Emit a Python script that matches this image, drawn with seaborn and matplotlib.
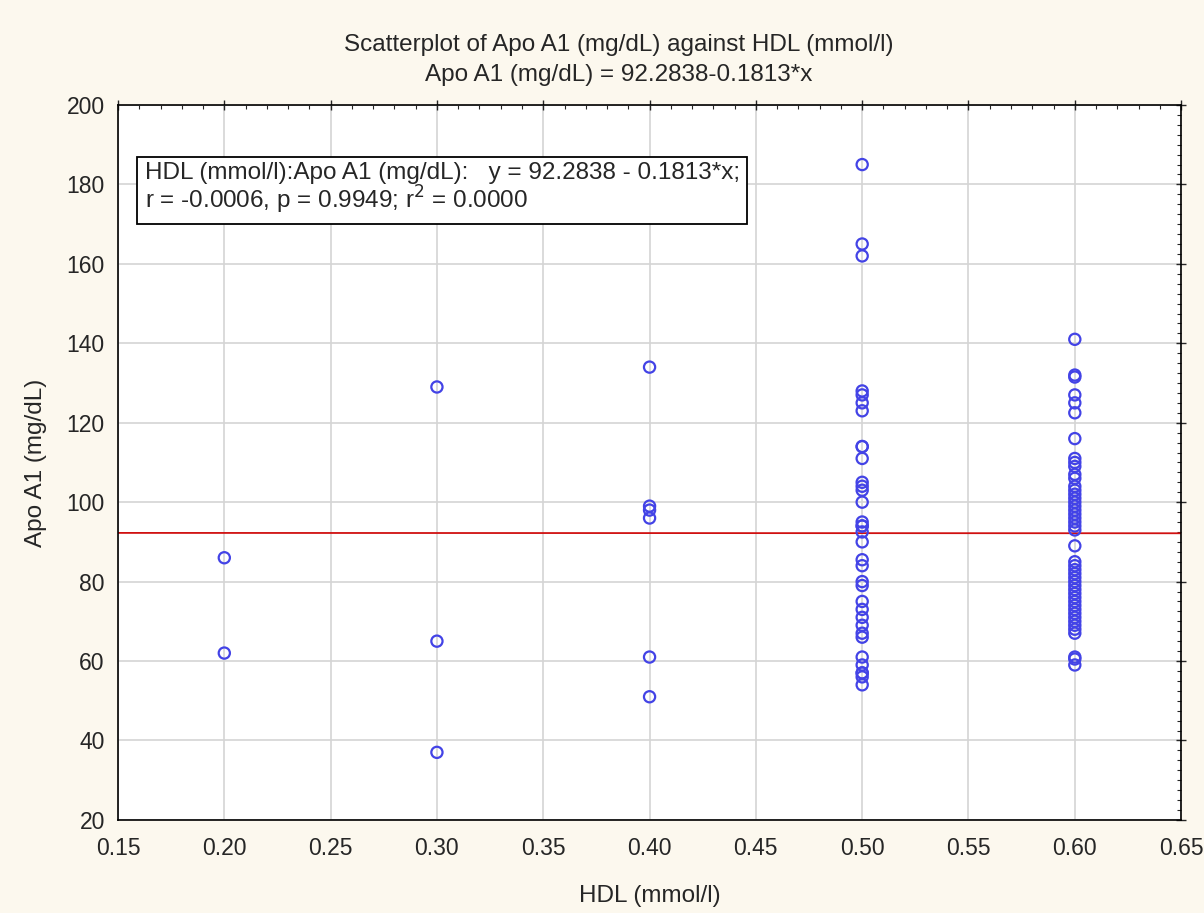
import numpy as np
import pandas as pd
import matplotlib
matplotlib.use("Agg")
import matplotlib.pyplot as plt
from matplotlib.ticker import MultipleLocator
import seaborn as sns

# Values
hdl_02 = [86, 62]
hdl_03 = [129, 65, 37]
hdl_04 = [134, 99, 98, 96, 61, 51]
hdl_05 = [185, 165, 162, 128, 127, 125, 123, 114, 114, 111, 105, 104, 103, 100,
          95, 94, 94, 92.5, 90, 85.5, 84, 80, 79, 75, 73, 71, 69, 67, 66,
          61, 59, 57, 57, 56, 54]
hdl_06 = [141, 132, 131.5, 127, 125, 122.5, 116, 111, 110, 109, 107, 106, 104,
          103, 102, 101, 100, 99, 98, 97, 96, 95, 94, 93, 89, 85, 84, 83, 82,
          81, 80, 79, 78, 77, 76, 75, 74, 73, 72, 71, 70, 69, 68, 67, 61, 60.5, 59]

hdl_levels = [0.2, 0.3, 0.4, 0.5, 0.6]
apo_groups = [hdl_02, hdl_03, hdl_04, hdl_05, hdl_06]

intercept = 92.2838
slope = -0.1813

rows = []
for lvl, vals in zip(hdl_levels, apo_groups):
    for v in vals:
        rows.append({"HDL (mmol/l)": lvl, "Apo A1 (mg/dL)": v})
df = pd.DataFrame(rows)

sns.set_style("white")
plt.rcParams["font.family"] = ["Liberation Sans", "DejaVu Sans"]

fig = plt.figure(figsize=(12.04, 9.13), dpi=100, facecolor="#fcf8ee")
ax = fig.add_axes([0.098, 0.102, 0.883, 0.783])
ax.set_facecolor("white")

ax.set_xlim(0.15, 0.65)
ax.set_ylim(20, 200)
ax.xaxis.set_major_locator(MultipleLocator(0.05))
ax.xaxis.set_minor_locator(MultipleLocator(0.01))
ax.yaxis.set_major_locator(MultipleLocator(20))
ax.yaxis.set_minor_locator(MultipleLocator(2.5))
ax.grid(True, which="major", color="#d4d4d4", lw=1.2)
ax.set_axisbelow(True)

# regression line
xs = np.array([0.15, 0.65])
ax.plot(xs, intercept + slope * xs, color="#d01010", lw=1.3, zorder=2)

sns.scatterplot(data=df, x="HDL (mmol/l)", y="Apo A1 (mg/dL)", ax=ax,
                marker="o", s=65, facecolor="none", edgecolor="#4343e6",
                linewidth=1.6, zorder=3)

for s in ax.spines.values():
    s.set_color("black")
    s.set_linewidth(1.2)

ax.tick_params(which="major", direction="inout", length=7, width=1,
               top=True, right=True, labelsize=16.5, pad=6)
ax.tick_params(which="minor", direction="in", length=3, width=0.8,
               top=True, right=True)
ax.tick_params(axis="x", which="major", pad=9)
ax.xaxis.set_major_formatter(plt.FuncFormatter(lambda v, p: f"{v:.2f}"))

ax.set_xlabel("HDL (mmol/l)", fontsize=17.5, labelpad=18)
ax.set_ylabel("Apo A1 (mg/dL)", fontsize=17.5, labelpad=14)

fig.text(0.514, 0.951, "Scatterplot of Apo A1 (mg/dL) against HDL (mmol/l)",
         ha="center", va="center", fontsize=17.5)
fig.text(0.514, 0.918, f"Apo A1 (mg/dL) = {intercept:.4f}{slope:.4f}*x",
         ha="center", va="center", fontsize=17.5)

box_txt = (f"HDL (mmol/l):Apo A1 (mg/dL):   y = {intercept:.4f} - {abs(slope):.4f}*x;\n"
           "r = -0.0006, p = 0.9949; r$^2$ = 0.0000")
ax.text(0.025, 0.92, box_txt, transform=ax.transAxes, ha="left", va="top",
        fontsize=17.5, linespacing=1.0, zorder=5,
        bbox=dict(boxstyle="square,pad=0.3", facecolor="white",
                  edgecolor="black", linewidth=1.3))

fig.savefig("out.png", dpi=100, facecolor=fig.get_facecolor())
